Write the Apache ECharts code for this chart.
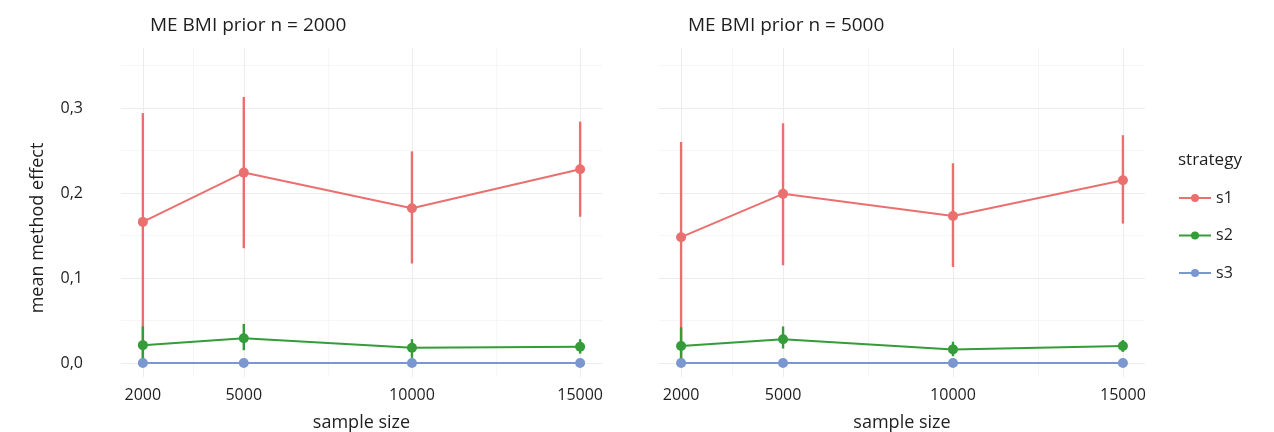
<!DOCTYPE html>
<html>
<head>
<meta charset="utf-8">
<script src="https://cdn.jsdelivr.net/npm/echarts@6/dist/echarts.min.js"></script>
<style>html,body{margin:0;padding:0;background:#fff}#c{width:1274px;height:432px}</style>
</head>
<body>
<div id="c"></div>
<script>
// ---- data ----
const sampleSizes = [2000, 5000, 10000, 15000];
const panelTitles = ['ME BMI prior n = 2000', 'ME BMI prior n = 5000'];
const strategies = ['s1', 's2', 's3'];
const yTicks = [0, 0.1, 0.2, 0.3];
const yMinorTicks = [0.05, 0.15, 0.25, 0.35];
const xMinorTicks = [3500, 7500, 12500];

// panel 1 (prior n = 2000)
const p1_s1_mean = [0.166, 0.224, 0.182, 0.228];
const p1_s1_low  = [0.000, 0.135, 0.117, 0.172];
const p1_s1_high = [0.294, 0.313, 0.249, 0.284];
const p1_s2_mean = [0.021, 0.029, 0.018, 0.019];
const p1_s2_low  = [0.000, 0.015, 0.006, 0.011];
const p1_s2_high = [0.043, 0.046, 0.028, 0.028];
const p1_s3_mean = [0.000, 0.000, 0.000, 0.000];
const p1_s3_low  = [0.000, 0.000, 0.000, 0.000];
const p1_s3_high = [0.000, 0.000, 0.000, 0.000];

// panel 2 (prior n = 5000)
const p2_s1_mean = [0.148, 0.199, 0.173, 0.215];
const p2_s1_low  = [0.000, 0.115, 0.113, 0.164];
const p2_s1_high = [0.260, 0.282, 0.235, 0.268];
const p2_s2_mean = [0.020, 0.028, 0.016, 0.020];
const p2_s2_low  = [0.000, 0.017, 0.008, 0.013];
const p2_s2_high = [0.042, 0.043, 0.025, 0.027];
const p2_s3_mean = [0.000, 0.000, 0.000, 0.000];
const p2_s3_low  = [0.000, 0.000, 0.000, 0.000];
const p2_s3_high = [0.000, 0.000, 0.000, 0.000];

// ---- build ----
const colors = {s1: '#ea7070', s2: '#349c38', s3: '#7a97d0'};
const FONT = 'Open Sans';
const TXT = '#1e1e1e';
const panels = [
  {s1:[p1_s1_mean,p1_s1_low,p1_s1_high], s2:[p1_s2_mean,p1_s2_low,p1_s2_high], s3:[p1_s3_mean,p1_s3_low,p1_s3_high]},
  {s1:[p2_s1_mean,p2_s1_low,p2_s1_high], s2:[p2_s2_mean,p2_s2_low,p2_s2_high], s3:[p2_s3_mean,p2_s3_low,p2_s3_high]}
];

const grids = [
  {left: 121, width: 481, top: 48, bottom: 55, containLabel: false, outerBoundsMode: 'none'},
  {left: 659, width: 486, top: 48, bottom: 55, containLabel: false, outerBoundsMode: 'none'}
];

const xAxes = [], yAxes = [], series = [];
panels.forEach((p, gi) => {
  xAxes.push({
    type: 'value', gridIndex: gi, min: 1350, max: 15650,
    name: 'sample size', nameLocation: 'middle', nameGap: 37,
    nameTextStyle: {fontFamily: FONT, fontSize: 18, color: TXT},
    axisLine: {show: false}, axisTick: {show: false}, splitLine: {show: false},
    axisLabel: {customValues: sampleSizes, fontFamily: FONT, fontSize: 16, color: TXT, margin: 10,
      formatter: v => String(v)}
  });
  yAxes.push({
    type: 'value', gridIndex: gi, min: -0.0165, max: 0.3706,
    axisLine: {show: false}, axisTick: {show: false}, splitLine: {show: false},
    axisLabel: {show: gi === 0, customValues: yTicks, fontFamily: FONT, fontSize: 16, color: TXT, margin: 38,
      formatter: v => v.toFixed(1).replace('.', ',')}
  });
  // gridlines (drawn on lower layer)
  const ml = (arr, key, col, w) => arr.map(v => ({[key]: v, lineStyle: {color: col, width: w, type: 'solid'}}));
  series.push({
    type: 'line', name: 'grid' + gi, xAxisIndex: gi, yAxisIndex: gi, data: [], silent: true, zlevel: 0, z: 0,
    markLine: {silent: true, symbol: ['none', 'none'], label: {show: false}, animation: false,
      data: [].concat(
        ml(xMinorTicks, 'xAxis', '#f6f6f6', 1),
        ml(yMinorTicks, 'yAxis', '#f6f6f6', 1),
        ml(sampleSizes, 'xAxis', '#ececec', 1),
        ml(yTicks, 'yAxis', '#ececec', 1)
      )}
  });
  strategies.forEach((s, si) => {
    const [m, lo, hi] = p[s];
    const errData = sampleSizes.map((x, i) => [x, lo[i], hi[i]]);
    series.push({
      type: 'custom', name: s + ' range', xAxisIndex: gi, yAxisIndex: gi, zlevel: 1, z: 2 + si * 2, silent: true,
      data: errData, itemStyle: {color: colors[s]},
      renderItem: (params, api) => {
        const a = api.coord([api.value(0), api.value(1)]);
        const b = api.coord([api.value(0), api.value(2)]);
        return {type: 'line', shape: {x1: a[0], y1: a[1], x2: b[0], y2: b[1]},
          style: {stroke: colors[s], lineWidth: 2.4}};
      },
      encode: {x: 0, y: [1, 2]}, clip: false
    });
    series.push({
      type: 'line', name: s, xAxisIndex: gi, yAxisIndex: gi, zlevel: 1, z: 3 + si * 2,
      data: sampleSizes.map((x, i) => [x, m[i]]),
      symbol: 'circle', symbolSize: 10, showSymbol: true,
      lineStyle: {color: colors[s], width: 2},
      itemStyle: {color: colors[s]}, animation: false, clip: false
    });
  });
});

const chart = echarts.init(document.getElementById('c'));
chart.setOption({
  animation: false,
  backgroundColor: '#ffffff',
  title: [
    {text: panelTitles[0], left: 145, top: 11, textStyle: {fontFamily: FONT, fontSize: 19, fontWeight: 'normal', color: TXT}},
    {text: panelTitles[1], left: 683, top: 11, textStyle: {fontFamily: FONT, fontSize: 19, fontWeight: 'normal', color: TXT}},
    {text: 'strategy', left: 1173, top: 147, textStyle: {fontFamily: FONT, fontSize: 17, fontWeight: 'normal', color: TXT}}
  ],
  graphic: [{
    type: 'text', x: 38, y: 228, rotation: Math.PI / 2,
    style: {text: 'mean method effect', fontFamily: FONT, fontSize: 18, fill: TXT, align: 'center', verticalAlign: 'middle'}
  }],
  legend: {
    data: strategies,
    orient: 'vertical', left: 1173, top: 185, itemWidth: 32, itemHeight: 10, itemGap: 21.5,
    textStyle: {fontFamily: FONT, fontSize: 16, lineHeight: 16, color: TXT},
    selectedMode: false
  },
  grid: grids,
  xAxis: xAxes,
  yAxis: yAxes,
  series: series
});
</script>
</body>
</html>
